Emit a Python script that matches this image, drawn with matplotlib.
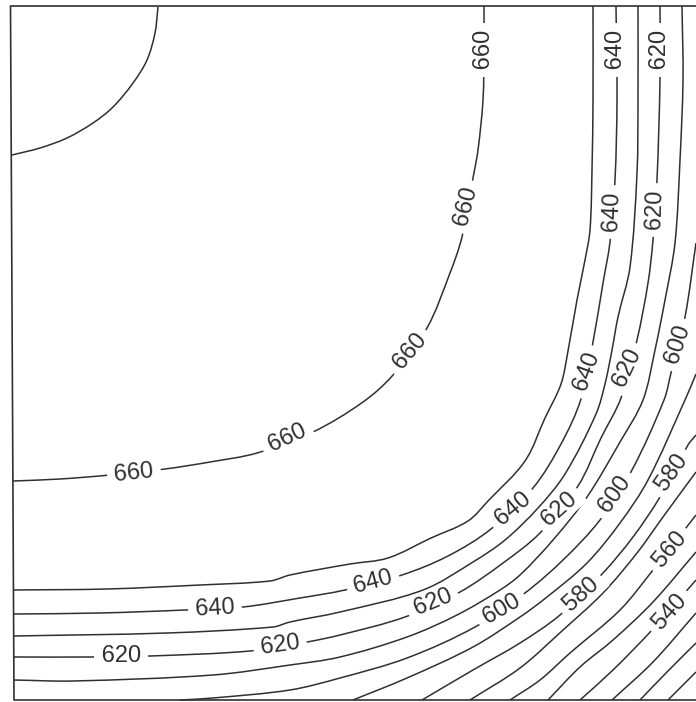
import matplotlib
matplotlib.use("Agg")
import matplotlib.pyplot as plt
from matplotlib.path import Path
from matplotlib.patches import PathPatch
import numpy as np

# moldura e contornos (px)
moldura_x = [696, 10.5, 14, 696]
moldura_y = [6, 6, 700, 700]

arco_x = [158, 155, 147, 133, 113, 93, 67, 40, 12]
arco_y = [7, 33, 60, 83, 107, 123, 138, 148, 155]

c660_x = [484, 484, 483, 478, 473, 462, 450, 427, 393, 363, 313, 257, 210, 165, 110, 60, 13]
c660_y = [6, 50, 100, 150, 178, 237, 273, 328, 375, 402, 432, 453, 462, 469, 475, 479, 481]

a_x = [593, 593, 592, 590, 585, 577, 568, 561, 545, 525, 488, 468, 431, 388, 350, 290, 270, 200, 107, 13]
a_y = [6, 100, 170, 230, 260, 300, 351, 384, 418, 461, 501, 521, 538, 558, 564, 575, 581, 585, 589, 590]

b_x = [616, 617, 615, 610, 603, 593, 581, 561, 533, 491, 448, 402, 345, 300, 243, 185, 100, 14]
b_y = [6, 100, 180, 242, 283, 342, 399, 444, 488, 529, 556, 575, 590, 598, 607, 610, 613, 614]

c_x = [638, 638, 637, 630, 618, 612, 605, 596, 565, 538, 505, 473, 423, 340, 290, 273, 167, 14]
c_y = [6, 100, 173, 267, 317, 350, 384, 414, 474, 508, 540, 562, 590, 612, 622, 627, 633, 636]

d_x = [660, 660, 657, 653, 648, 637, 621, 601, 578, 540, 503, 460, 405, 340, 307, 250, 150, 92, 14]
d_y = [6, 80, 180, 240, 283, 340, 398, 438, 486, 533, 563, 592, 617, 635, 642, 651, 656, 657, 657]

e_x = [682, 683, 680, 675, 665, 655, 643, 620, 587, 553, 520, 500, 457, 407, 340, 290, 213, 73, 14]
e_y = [6, 80, 160, 243, 300, 350, 400, 442, 497, 540, 575, 590, 615, 637, 657, 665, 675, 681, 680]

f_x = [696, 685, 671, 664, 632, 600, 563, 525, 475, 407, 340, 290, 213, 180]
f_y = [243, 317, 373, 400, 470, 520, 560, 593, 627, 658, 678, 690, 698, 700]

g_x = [696, 685, 648, 620, 587, 547, 520, 473, 407, 353]
g_y = [374, 400, 480, 523, 563, 597, 617, 647, 678, 700]

h_x = [696, 688, 660, 633, 603, 560, 520, 473, 422]
h_y = [435, 445, 497, 537, 573, 615, 643, 670, 700]

i_x = [696, 663, 637, 603, 563, 520, 470]
i_y = [472, 517, 553, 593, 630, 668, 700]

j_x = [696, 653, 620, 570, 540, 510]
j_y = [515, 570, 610, 653, 680, 700]

k_x = [696, 653, 613, 580, 548]
k_y = [552, 602, 640, 667, 700]

l_x = [696, 652, 613, 580]
l_y = [580, 630, 670, 700]

m_x = [696, 653, 612]
m_y = [613, 662, 700]

n_x = [696, 667, 640]
n_y = [643, 672, 700]

o_x = [696, 668]
o_y = [672, 700]

contornos = [(arco_x, arco_y), (c660_x, c660_y), (a_x, a_y), (b_x, b_y), (c_x, c_y),
             (d_x, d_y), (e_x, e_y), (f_x, f_y), (g_x, g_y), (h_x, h_y), (i_x, i_y),
             (j_x, j_y), (k_x, k_y), (l_x, l_y), (m_x, m_y), (n_x, n_y), (o_x, o_y)]

# rotulos
rot_txt = ["660", "640", "620", "660", "640", "620", "660", "640", "620", "600", "660", "660", "580",
           "600", "640", "620", "560", "580", "540", "600", "620", "640", "640", "620", "620"]
rot_x = [484, 616, 660, 467, 613, 656, 410, 587, 628, 678, 287, 134, 672,
         615, 513, 560, 670, 582, 670, 502, 433, 373, 215, 280, 121]
rot_y = [50, 50, 50, 207, 212, 210, 352, 372, 369, 345, 438, 473, 473,
         495, 509, 510, 550, 595, 612, 610, 603, 582, 609, 645, 656]
rot_ang = [90, 90, 90, 76, 88, 88, 50, 70, 65, 72, 25, 6, 55,
           55, 40, 42, 50, 42, 48, 30, 22, 15, 3, 8, 0]

cor = "#303030"


# curva suave passando pelos pontos
def suave(x, y):
    p = np.column_stack([x, y]).astype(float)
    tan = np.zeros_like(p)
    tan[1:-1] = p[2:] - p[:-2]
    tan[0] = p[1] - p[0]
    tan[-1] = p[-1] - p[-2]
    tan = tan / np.linalg.norm(tan, axis=1, keepdims=True)
    verts = [p[0]]
    codes = [Path.MOVETO]
    for i in range(len(p) - 1):
        corda = np.linalg.norm(p[i + 1] - p[i]) / 3
        verts += [p[i] + tan[i] * corda, p[i + 1] - tan[i + 1] * corda, p[i + 1]]
        codes += [Path.CURVE4, Path.CURVE4, Path.CURVE4]
    return Path(verts, codes)


fig = plt.figure(figsize=(6.96, 7.02), dpi=100)
ax = fig.add_axes([0, 0, 1, 1])
ax.set_xlim(0, 696)
ax.set_ylim(702, 0)
ax.axis("off")

ax.plot(moldura_x, moldura_y, color=cor, lw=1.2, zorder=3)

for x, y in contornos:
    ax.add_patch(PathPatch(suave(x, y), fill=False, edgecolor=cor, lw=1.1, zorder=1))

for t, x, y, a in zip(rot_txt, rot_x, rot_y, rot_ang):
    ax.text(x, y, " " + t + " ", rotation=a, rotation_mode="anchor", ha="center", va="center",
            fontsize=17, family="Liberation Sans", color=cor, zorder=2,
            bbox=dict(facecolor="white", edgecolor="none", boxstyle="square,pad=0.02"))

fig.savefig("out.png", dpi=100)
